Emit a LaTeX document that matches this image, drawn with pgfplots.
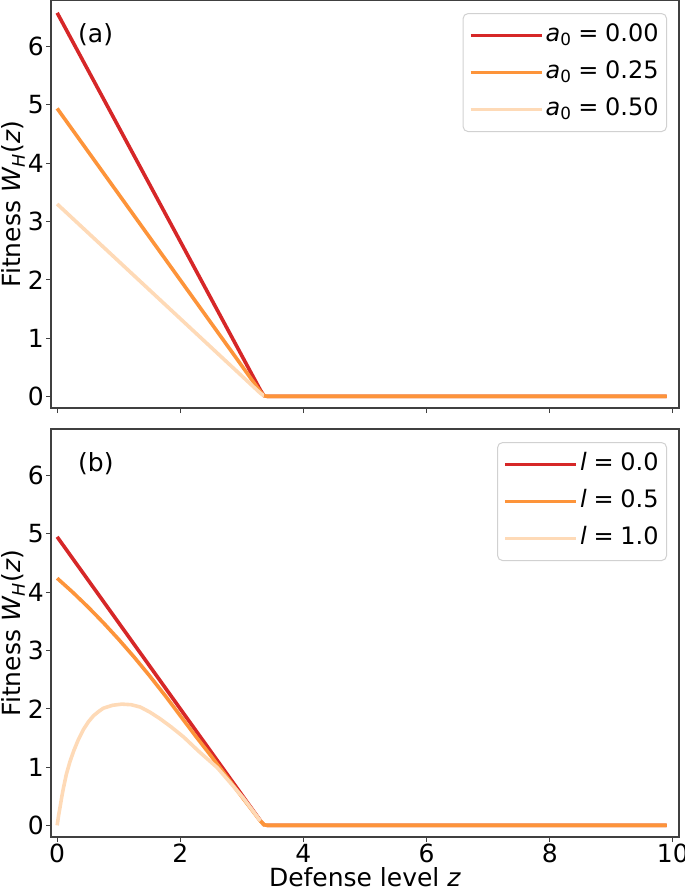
\documentclass[border=0pt]{standalone}
\usepackage{fontspec}
\setmainfont{DejaVu Sans}
\usepackage{pgfplots}
\pgfplotsset{compat=1.18}
\definecolor{cR}{RGB}{214,39,40}
\definecolor{cO}{RGB}{253,148,58}
\definecolor{cL}{RGB}{254,218,183}
\newcommand{\eqs}{\hspace{0.28em}=\hspace{0.28em}}
\begin{document}
\fontsize{25}{30}\selectfont
\begin{tikzpicture}
\useasboundingbox (0,0) rectangle (685pt,-892pt);
\pgfplotsset{
 common/.style={
  scale only axis, width=628pt, height=408pt,
  xmin=-0.1, xmax=10.1, ymin=-0.2, ymax=6.8,
  xtick={0,2,...,10}, ytick={0,...,6},
  tick align=outside, xtick pos=bottom, ytick pos=left,
  major tick length=5pt,
  tick style={black!75, line width=1pt},
  axis line style={black!75, line width=1.1pt},
  /pgf/number format/assume math mode=true,
  ticklabel style={font=\fontsize{25}{30}\selectfont},
  yticklabel style={inner sep=2pt},
  xticklabel style={inner sep=2pt},
  label style={font=\fontsize{25}{30}\selectfont},
  ylabel={Fitness \textit{W}\textsubscript{\textit{H}}(\textit{z})},
  ylabel style={at={(axis description cs:-0.06,0.5)}, anchor=center},
  legend cell align=left,
  legend style={font=\fontsize{24}{28}\selectfont, at={(0.981,0.968)}, anchor=north east, draw=black!18, line width=1pt, rounded corners=5pt, inner xsep=6pt, inner ysep=9pt, row sep=11pt, nodes={inner sep=2pt, text height=17pt, text depth=5pt}},
  legend image code/.code={\draw[#1] (0pt,0pt) -- (55pt,0pt); \path (0pt,0pt) -- (71pt,0pt);},
  every axis plot/.append style={line width=3.6pt, line join=round},
 }
}
\begin{axis}[common, at={(51pt,0pt)}, anchor=north west, xticklabels={}]
\addplot[cR] coordinates {(0,6.58) (3.30,0.108) (3.36,0.01) (3.42,0) (9.9,0)};
\addlegendentry{\textit{a}\textsubscript{0}\eqs0.00}
\addplot[cO] coordinates {(0,4.94) (3.30,0.081) (3.36,0.01) (3.42,0) (9.9,0)};
\addlegendentry{\textit{a}\textsubscript{0}\eqs0.25}
\addplot[cL] coordinates {(0,3.30) (3.30,0.054) (3.36,0.01) (3.42,0)};
\addlegendentry{\textit{a}\textsubscript{0}\eqs0.50}
\addplot[cO, forget plot] coordinates {(3.36,0.01) (3.42,0) (9.9,0)};
\node[anchor=west, inner sep=0pt] at (rel axis cs:0.043,0.914) {(a)};
\end{axis}
\begin{axis}[common, at={(51pt,-429pt)}, anchor=north west,
  xlabel={Defense level \textit{z}},
  xlabel style={at={(axis description cs:0.5,-0.122)}, anchor=base}]
\addplot[cR] coordinates {(0,4.95) (3.30,0.081) (3.36,0.01) (3.42,0) (9.9,0)};
\addlegendentry{\textit{l}\eqs0.0}
\addplot[cO] coordinates {(0,4.24) (0.25,4.002) (0.5,3.748) (0.75,3.477) (1.0,3.19) (1.25,2.887) (1.5,2.567) (1.75,2.232) (2.0,1.88) (2.25,1.53) (2.5,1.19) (2.75,0.84) (3.0,0.49) (3.3,0.075) (3.36,0.01) (3.42,0) (9.9,0)};
\addlegendentry{\textit{l}\eqs0.5}
\addplot[cL] coordinates {(0,0) (0.025,0.18) (0.05,0.33) (0.075,0.49) (0.10,0.63) (0.15,0.88) (0.21,1.10) (0.27,1.28) (0.34,1.46) (0.43,1.65) (0.51,1.78) (0.59,1.88) (0.67,1.95) (0.75,2.01) (0.9,2.06) (1.05,2.08) (1.2,2.07) (1.35,2.03) (1.51,1.94) (1.67,1.83) (1.85,1.69) (2.05,1.52) (2.3,1.27) (2.6,0.99) (2.87,0.66) (3.03,0.46) (3.2,0.22) (3.3,0.075) (3.36,0.01) (3.42,0)};
\addlegendentry{\textit{l}\eqs1.0}
\addplot[cO, forget plot] coordinates {(3.3,0.075) (3.36,0.01) (3.42,0) (9.9,0)};
\node[anchor=west, inner sep=0pt] at (rel axis cs:0.043,0.914) {(b)};
\end{axis}
\end{tikzpicture}
\end{document}
